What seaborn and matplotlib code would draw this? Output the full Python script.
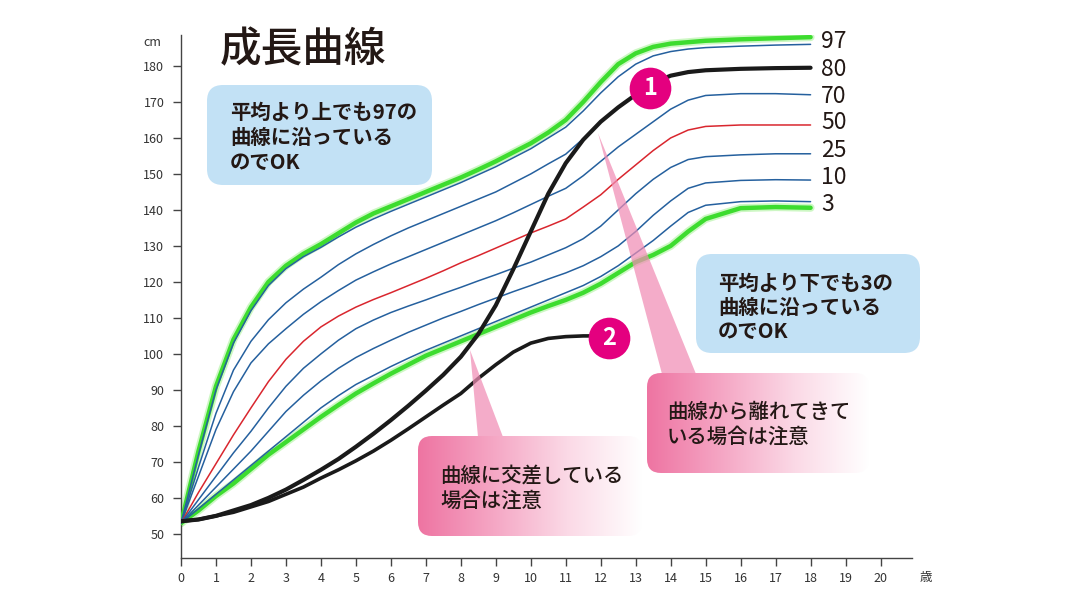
import numpy as np
import matplotlib
matplotlib.use("Agg")
import matplotlib.pyplot as plt
import seaborn as sns
from matplotlib.patches import FancyBboxPatch, Polygon
from matplotlib.colors import LinearSegmentedColormap

# ages (years) shared by all percentile curves
ages = [0, 0.5, 1, 1.5, 2, 2.5, 3, 3.5, 4, 4.5, 5, 5.5, 6, 6.5, 7, 7.5, 8, 8.5, 9, 9.5,
        10, 10.5, 11, 11.5, 12, 12.5, 13, 13.5, 14, 14.5, 15, 16, 17, 18]

# heights in cm
guide_upper = [53, 73, 91, 104, 113, 120, 124.5, 127.8, 130.5, 133.5, 136.5, 139, 141, 143,
               145, 147, 149, 151.2, 153.5, 156, 158.5, 161.5, 165, 170, 175.5, 180.5,
               183.5, 185.3, 186.2, 186.6, 187, 187.4, 187.7, 188]
p97 = [53, 72, 90, 103, 112, 119, 123.7, 127, 129.6, 132.5, 135.2, 137.5, 139.6, 141.6,
       143.6, 145.6, 147.6, 149.8, 152, 154.5, 157, 160, 163, 167.5, 172.5, 177,
       180.5, 182.8, 184, 184.7, 185.1, 185.5, 185.8, 186]
p80 = [53, 68.5, 83.5, 95.5, 103.5, 109.5, 114.2, 118, 121.3, 124.8, 127.8, 130.4, 132.8, 135,
       137, 139, 141, 143, 145, 147.5, 150, 152.8, 155.5, 159.8, 164.5, 168.5,
       172, 175.5, 177.3, 178.3, 178.8, 179.2, 179.4, 179.5]
p70 = [53, 66, 79, 89.5, 97.5, 102.8, 107, 111, 114.5, 117.6, 120.5, 122.8, 125, 127,
       129, 131, 133, 135, 137, 139.2, 141.5, 143.8, 146, 149.5, 153.5, 157.5,
       161, 164.5, 168, 170.5, 171.8, 172.3, 172.3, 172]
p50 = [53, 61.5, 69.5, 77.5, 85, 92.3, 98.5, 103.5, 107.5, 110.5, 113, 115.1, 117, 119,
       121, 123.1, 125.3, 127.3, 129.4, 131.5, 133.6, 135.5, 137.5, 140.8, 144.2, 148.5,
       152.5, 156.5, 160, 162.2, 163.2, 163.6, 163.6, 163.6]
p25 = [53, 59.5, 66, 72.5, 78.5, 85, 91, 96, 100, 103.8, 107, 109.4, 111.5, 113.3,
       115, 116.8, 118.5, 120.3, 122, 123.8, 125.5, 127.5, 129.5, 132, 135.5, 140,
       144.5, 148.5, 151.8, 154, 154.8, 155.3, 155.6, 155.6]
p10 = [53, 58, 63, 68, 73, 78.5, 84, 88.5, 92.5, 96, 99, 101.5, 103.8, 106,
       108, 110, 111.8, 113.7, 115.5, 117.3, 119, 120.8, 122.5, 124.5, 127, 130,
       134, 138.5, 142.5, 146, 147.5, 148.2, 148.4, 148.3]
p3 = [53, 57, 61, 65, 69, 73, 77, 81, 85, 88.4, 91.5, 94, 96.5, 98.8,
      101, 103, 105, 107, 109, 111, 113, 115, 117, 119, 121.5, 124.5,
      128, 131.5, 135.5, 139.3, 141.3, 142.3, 142.5, 142.3]
guide_lower = [53, 56.5, 60.5, 64, 68, 72, 75.5, 79, 82.5, 85.8, 89, 91.8, 94.5, 97,
               99.5, 101.5, 103.5, 105.5, 107.5, 109.5, 111.5, 113.3, 115, 117, 119.5, 122.5,
               125.5, 127.5, 130, 134, 137.5, 140.5, 140.8, 140.6]

# two example children
child_1 = [53.5, 54, 55, 56.5, 58, 60, 62.3, 65, 67.8, 70.8, 74.2, 77.8, 81.6, 85.6,
           89.8, 94.2, 99.2, 105.5, 113.5, 123.5, 134, 144.5, 153, 159.5, 164.5, 168.5,
           172, 175.3, 177.3, 178.3, 178.8, 179.2, 179.4, 179.5]
ages_child_2 = ages[:25]
child_2 = [53.5, 54, 55, 56, 57.5, 59, 61, 63, 65.5, 67.8, 70.3, 73, 76, 79.2,
           82.5, 85.8, 89, 93.2, 97, 100.5, 103, 104.3, 104.8, 105, 105]

percentile_names = ['97', '80', '70', '50', '25', '10', '3']
percentile_curves = [p97, p80, p70, p50, p25, p10, p3]
label_heights = [186.7, 179.0, 171.4, 164.2, 156.4, 148.9, 141.4]
marker_1 = (13.4, 174.0)
marker_2 = (12.23, 104.5)

BLUE = '#25609e'
RED = '#d9262e'
GREEN = '#3ddc2f'
BLACK = '#1a1a1a'
TXT = '#231815'

sns.set_theme(style="white")
plt.rcParams['font.family'] = ['Noto Sans CJK JP', 'DejaVu Sans']

W, H = 1067, 600
fig = plt.figure(figsize=(W / 100, H / 100), dpi=100)
ax = fig.add_axes([181 / W, 1 - 558 / H, (912 - 181) / W, (558 - 35) / H])

# green guide lines with a soft glow
for g in (guide_upper, guide_lower):
    sns.lineplot(x=ages, y=g, ax=ax, color='#b9f5ab', linewidth=5.8, alpha=0.7,
                 sort=False, estimator=None, zorder=2)
    sns.lineplot(x=ages, y=g, ax=ax, color=GREEN, linewidth=3.2,
                 sort=False, estimator=None, zorder=3)

for name, curve, ly in zip(percentile_names, percentile_curves, label_heights):
    col = RED if name == '50' else BLUE
    sns.lineplot(x=ages, y=curve, ax=ax, color=col, linewidth=1.1,
                 sort=False, estimator=None, zorder=4)
    ax.text(18.3, ly, name, fontsize=16.5, color=TXT, ha='left',
            va='center', zorder=6, clip_on=False)

sns.lineplot(x=ages, y=child_1, ax=ax, color=BLACK, linewidth=3.0,
             sort=False, estimator=None, zorder=5)
sns.lineplot(x=ages_child_2, y=child_2, ax=ax, color=BLACK, linewidth=2.6,
             sort=False, estimator=None, zorder=5)

for (mx, my), label in ((marker_1, '1'), (marker_2, '2')):
    ax.scatter([mx], [my], s=900, color='#e4007f', zorder=8, linewidths=0)
    ax.text(mx, my, label, color='white', fontsize=17, fontweight='bold',
            ha='center', va='center', zorder=9)

ax.set_xlim(0, 20.9)
ax.set_ylim(43.3, 188.6)
ax.set_xticks(range(0, 21))
ax.set_yticks(range(50, 181, 10))
ax.set_xlabel('')
ax.set_ylabel('')
for s in ('top', 'right'):
    ax.spines[s].set_visible(False)
for s in ('left', 'bottom'):
    ax.spines[s].set_color('#444444')
    ax.spines[s].set_linewidth(1.0)
ax.tick_params(bottom=True, left=True, direction='out', length=6, width=1,
               color='#444444', labelsize=9, labelcolor='#333333')
ax.tick_params(axis='y', pad=6)
ax.tick_params(axis='x', pad=4)
ax.patch.set_alpha(0)

fig.text(152 / W, 1 - 43 / H, 'cm', fontsize=9, color='#333333', ha='center', va='center')
fig.text(926 / W, 1 - 577 / H, '歳', fontsize=9, color='#333333', ha='center', va='center')

# overlay in pixel coordinates for the call-outs
ov = fig.add_axes([0, 0, 1, 1], zorder=5)
ov.patch.set_alpha(0)
ov.axis('off')

pink = LinearSegmentedColormap.from_list('pk', ['#ee74a2', '#f5a6c4', '#fbd9e6', '#ffffff'])


def pink_box(x0, y0, w, h):
    patch = FancyBboxPatch((x0, y0), w, h, boxstyle="round,pad=0,rounding_size=14",
                           fc='none', ec='none')
    ov.add_patch(patch)
    grad = np.linspace(0, 1, 256)[None, :]
    im = ov.imshow(grad, extent=[x0, x0 + w, y0 + h, y0], cmap=pink, aspect='auto',
                   zorder=2, interpolation='bilinear')
    im.set_clip_path(patch)


def blue_box(x0, y0, w, h):
    ov.add_patch(FancyBboxPatch((x0, y0), w, h, boxstyle="round,pad=0,rounding_size=16",
                                fc='#c2e1f5', ec='none', zorder=2))


def lines_text(x, y0, step, lines, weight='bold'):
    for i, t in enumerate(lines):
        ov.text(x, y0 + i * step, t, fontsize=14.7, fontweight=weight, color=TXT,
                ha='left', va='center', zorder=4)


# pointers
ov.add_patch(Polygon([(598, 133), (662, 374), (696, 374)], closed=True,
                     fc='#f08db4', ec='none', alpha=0.72, zorder=1))
ov.add_patch(Polygon([(470, 350), (478, 437), (503, 437)], closed=True,
                     fc='#f08db4', ec='none', alpha=0.72, zorder=1))

pink_box(647, 373, 222, 100)
pink_box(418, 436, 224, 100)
blue_box(207, 85, 225, 100)
blue_box(696, 254, 224, 99)

lines_text(230, 112, 25.5, ['平均より上でも97の', '曲線に沿っている', 'のでOK'])
lines_text(718, 283, 24.5, ['平均より下でも3の', '曲線に沿っている', 'のでOK'])
lines_text(667, 412, 25, ['曲線から離れてきて', 'いる場合は注意'], weight='medium')
lines_text(440, 476, 25, ['曲線に交差している', '場合は注意'], weight='medium')

ov.text(303, 50, '成長曲線', fontsize=30, fontweight='medium', color=TXT,
        ha='center', va='center', zorder=4)

ov.set_xlim(0, W)
ov.set_ylim(H, 0)

fig.savefig('out.png', dpi=100)
